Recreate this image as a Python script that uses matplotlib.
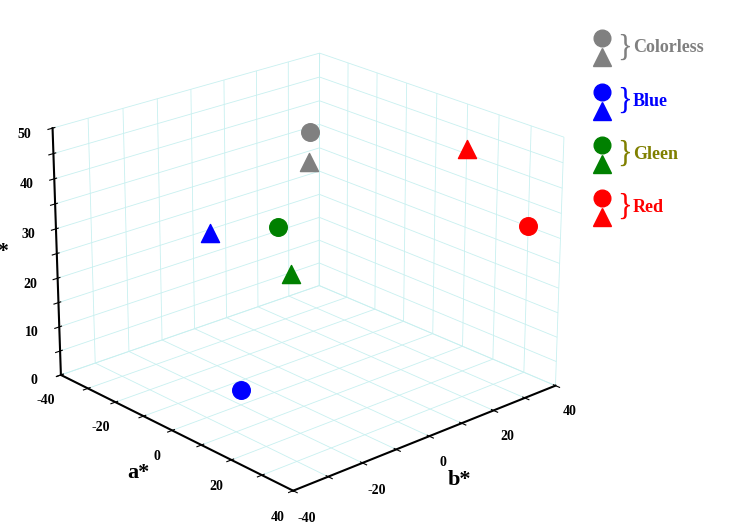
import matplotlib.pyplot as plt

plt.rcParams['font.family'] = ['Liberation Serif', 'DejaVu Serif']
plt.rcParams['font.weight'] = 'bold'

# sample groups: (a*, b*, L*) for circle and triangle
groups = ['Colorless', 'Blue', 'Gleen', 'Red']
colors = ['#808080', '#0000ff', '#008000', '#ff0000']
label_colors = ['#808080', '#0000ff', '#808000', '#ff0000']
circle_a = [-10, 0, -10, 30]
circle_b = [10, -20, 0, 40]
circle_L = [46, 3, 29, 30]
tri_a = [-5, -10, 0, 10]
tri_b = [5, -20, -5, 40]
tri_L = [42, 32, 23, 41]
ab_ticks = [-40, -30, -20, -10, 0, 10, 20, 30, 40]
L_ticks = [0, 5, 10, 15, 20, 25, 30, 35, 40, 45, 50]

fig = plt.figure(figsize=(7.31, 5.32), dpi=100)
ax = fig.add_axes([-0.02, -0.02, 0.86, 1.04], projection='3d')
ax.view_init(elev=22, azim=-42)

for i in range(len(groups)):
    ax.scatter(circle_a[i], circle_b[i], circle_L[i], marker='o', s=160,
               color=colors[i], depthshade=False)
    ax.scatter(tri_a[i], tri_b[i], tri_L[i], marker='^', s=170,
               color=colors[i], depthshade=False)

ax.set_xlim(-40, 40)
ax.set_ylim(-40, 40)
ax.set_zlim(0, 50)
ax.set_xticks(ab_ticks)
ax.set_yticks(ab_ticks)
ax.set_zticks(L_ticks)
ax.set_xticklabels([str(t) if t % 20 == 0 else '' for t in ab_ticks])
ax.set_yticklabels([str(t) if t % 20 == 0 else '' for t in ab_ticks])
ax.set_zticklabels([str(t) if t % 10 == 0 else '' for t in L_ticks])
ax.set_xlabel('a*', fontsize=16, fontweight='bold')
ax.set_ylabel('b*', fontsize=16, fontweight='bold')
ax.set_zlabel('L*', fontsize=16, fontweight='bold')
try:
    ax.zaxis.set_ticks_position('lower')
    ax.zaxis.set_label_position('lower')
except Exception:
    pass
for a in (ax.xaxis, ax.yaxis, ax.zaxis):
    a.set_pane_color((1, 1, 1, 0))
    a._axinfo['grid']['color'] = '#c8f0f0'
    a._axinfo['grid']['linewidth'] = 0.6
    a.line.set_linewidth(1.5)
ax.tick_params(labelsize=10)

# legend on the right
lg = fig.add_axes([0.8, 0.55, 0.2, 0.4])
lg.set_xlim(0, 1)
lg.set_ylim(0, 4)
lg.axis('off')
for i in range(len(groups)):
    y = 3.6 - i
    lg.plot(0.12, y + 0.18, 'o', ms=12, color=colors[i])
    lg.plot(0.12, y - 0.18, '^', ms=13, color=colors[i])
    lg.text(0.22, y, '}', fontsize=22, color=label_colors[i], va='center', fontweight='normal')
    lg.text(0.33, y, groups[i], fontsize=13, color=label_colors[i], va='center', fontweight='bold')

fig.savefig('out.png', dpi=100)
